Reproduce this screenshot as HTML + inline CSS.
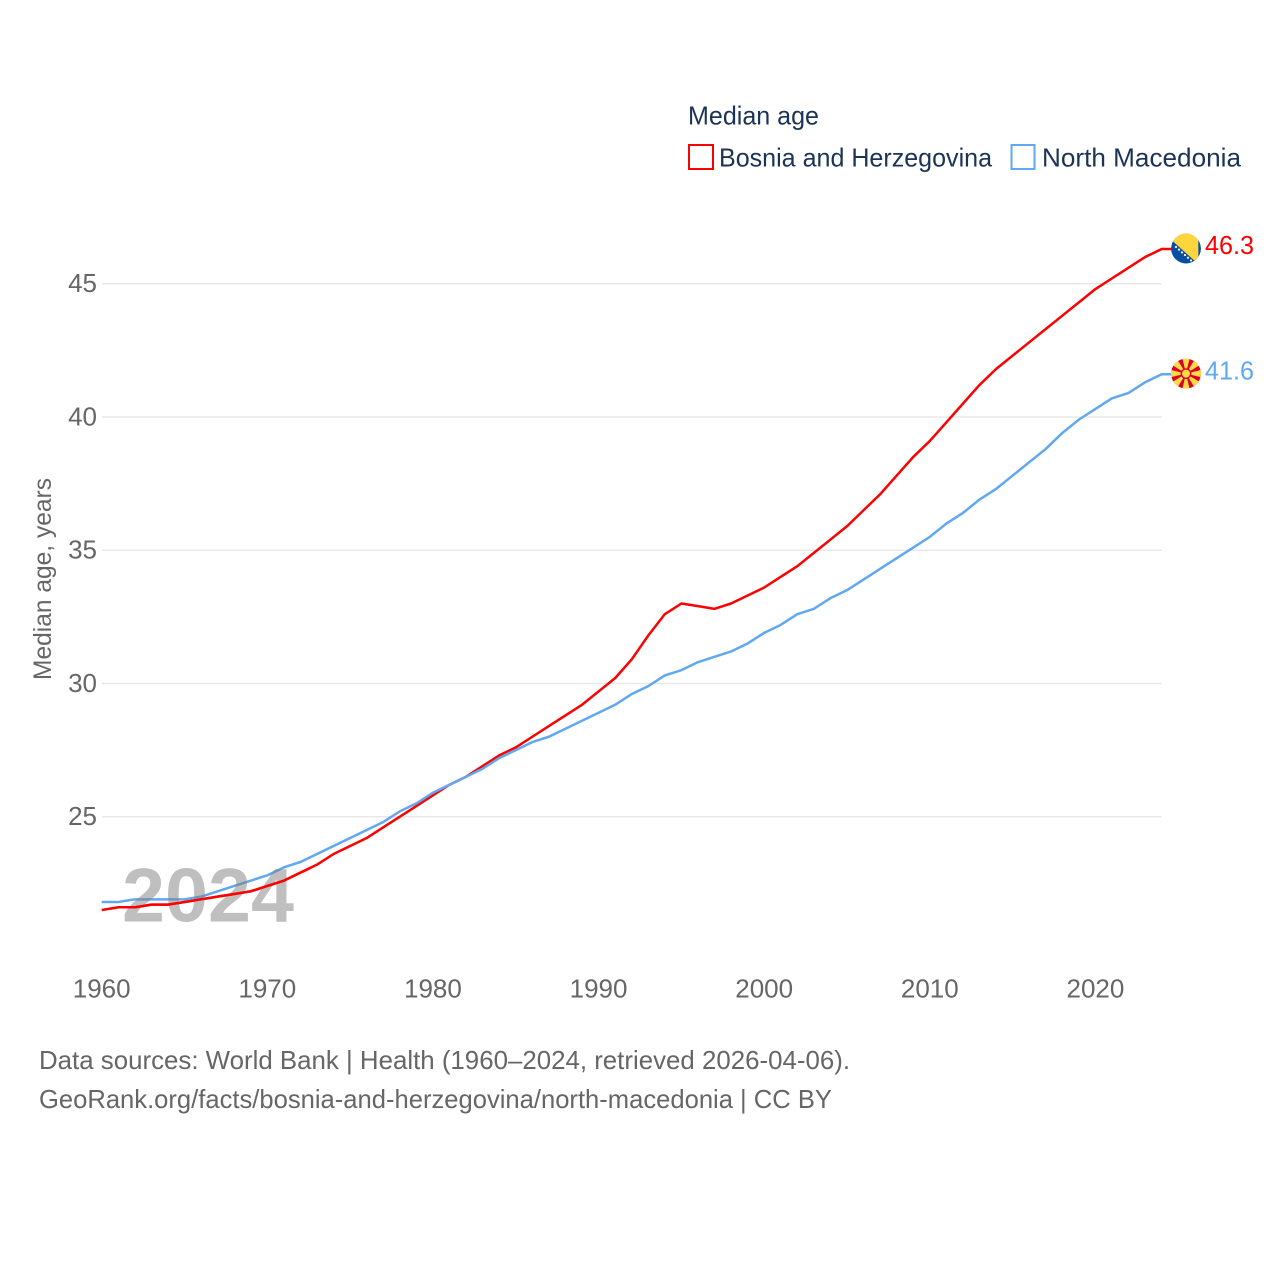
<!DOCTYPE html>
<html lang="en">
<head>
<meta charset="utf-8">
<title>Median age: Bosnia and Herzegovina vs North Macedonia</title>
<style>
html,body{margin:0;padding:0;background:#fff;width:1280px;height:1280px;overflow:hidden}
svg{display:block;font-family:"Liberation Sans",sans-serif}
</style>
</head>
<body>
<svg id="chart" xmlns="http://www.w3.org/2000/svg" width="1280" height="1280" viewBox="0 0 1280 1280">
  <rect x="0" y="0" width="1280" height="1280" fill="#fff"/>
  <defs>
    <clipPath id="watermark-clip"><rect x="110" y="855" width="200" height="75"/></clipPath>
    <clipPath id="flag-clip"><circle cx="0" cy="0" r="15"/></clipPath>
  </defs>

  <g id="grid"></g>
  <g id="yticks"></g>
  <g id="xticks"></g>

  <text transform="translate(51,680) rotate(-90)" font-size="25" fill="#666" textLength="202" lengthAdjust="spacingAndGlyphs">Median age, years</text>

  <g id="series"></g>

  <text x="122" y="921.5" font-size="76" font-weight="700" fill="#808080" fill-opacity="0.5" textLength="172" lengthAdjust="spacingAndGlyphs">2024</text>

  <g id="series-top" clip-path="url(#watermark-clip)"></g>

  <g id="flag-bih">
    <g clip-path="url(#flag-clip)">
      <circle r="15" fill="#0b4ea2"/>
      <polygon points="-14,-8 -14,-16 12.3,-16 12.3,15.5" fill="#ffd53d"/>
      <g fill="#fff">
        <circle cx="-10" cy="-1.6" r="1.1"/>
        <circle cx="-7" cy="1.1" r="1.1"/>
        <circle cx="-4" cy="3.8" r="1.1"/>
        <circle cx="-1" cy="6.5" r="1.1"/>
        <circle cx="2" cy="9.2" r="1.1"/>
        <circle cx="5" cy="11.9" r="1.1"/>
        <circle cx="8" cy="14.6" r="1.1"/>
      </g>
    </g>
  </g>

  <g id="flag-mk">
    <g clip-path="url(#flag-clip)">
      <circle r="15" fill="#d80027"/>
      <g fill="#ffda44">
        <polygon points="0,0 -3.8,-16 3.8,-16"/>
        <polygon points="0,0 -3.8,-16 3.8,-16" transform="rotate(45)"/>
        <polygon points="0,0 -3.8,-16 3.8,-16" transform="rotate(90)"/>
        <polygon points="0,0 -3.8,-16 3.8,-16" transform="rotate(135)"/>
        <polygon points="0,0 -3.8,-16 3.8,-16" transform="rotate(180)"/>
        <polygon points="0,0 -3.8,-16 3.8,-16" transform="rotate(225)"/>
        <polygon points="0,0 -3.8,-16 3.8,-16" transform="rotate(270)"/>
        <polygon points="0,0 -3.8,-16 3.8,-16" transform="rotate(315)"/>
      </g>
      <circle r="5.4" fill="#d80027"/>
      <circle r="4" fill="#ffda44"/>
    </g>
  </g>

  <text id="label-bih" x="1205" font-size="26" fill="#ff0000" textLength="49" lengthAdjust="spacingAndGlyphs"></text>
  <text id="label-mk" x="1205" font-size="26" fill="#60a8f0" textLength="49" lengthAdjust="spacingAndGlyphs"></text>

  <g>
    <text x="688" y="124.5" font-size="26" fill="#1b3355" textLength="131" lengthAdjust="spacingAndGlyphs">Median age</text>
    <rect x="689" y="145" width="24" height="24" fill="#fff" stroke="#ff0000" stroke-width="2"/>
    <text x="719" y="166.5" font-size="26" fill="#1b3355" textLength="273" lengthAdjust="spacingAndGlyphs">Bosnia and Herzegovina</text>
    <rect x="1011.5" y="145" width="23" height="24" fill="#fff" stroke="#60a8f0" stroke-width="2"/>
    <text x="1042" y="166.5" font-size="26" fill="#1b3355" textLength="199" lengthAdjust="spacingAndGlyphs">North Macedonia</text>
  </g>

  <text x="39" y="1069" font-size="26" fill="#666" textLength="811" lengthAdjust="spacingAndGlyphs">Data sources: World Bank | Health (1960–2024, retrieved 2026-04-06).</text>
  <text x="39" y="1108" font-size="26" fill="#666" textLength="793" lengthAdjust="spacingAndGlyphs">GeoRank.org/facts/bosnia-and-herzegovina/north-macedonia | CC BY</text>
</svg>

<script>
const startYear = 1960;
const bosniaValues = [21.5,21.6,21.6,21.7,21.7,21.8,21.9,22.0,22.1,22.2,22.4,22.6,22.9,23.2,23.6,23.9,24.2,24.6,25.0,25.4,25.8,26.2,26.5,26.9,27.3,27.6,28.0,28.4,28.8,29.2,29.7,30.2,30.9,31.8,32.6,33.0,32.9,32.8,33.0,33.3,33.6,34.0,34.4,34.9,35.4,35.9,36.5,37.1,37.8,38.5,39.1,39.8,40.5,41.2,41.8,42.3,42.8,43.3,43.8,44.3,44.8,45.2,45.6,46.0,46.3];
const macedoniaValues = [21.8,21.8,21.9,21.9,21.9,21.9,22.0,22.2,22.4,22.6,22.8,23.1,23.3,23.6,23.9,24.2,24.5,24.8,25.2,25.5,25.9,26.2,26.5,26.8,27.2,27.5,27.8,28.0,28.3,28.6,28.9,29.2,29.6,29.9,30.3,30.5,30.8,31.0,31.2,31.5,31.9,32.2,32.6,32.8,33.2,33.5,33.9,34.3,34.7,35.1,35.5,36.0,36.4,36.9,37.3,37.8,38.3,38.8,39.4,39.9,40.3,40.7,40.9,41.3,41.6];
const yTickValues = [25,30,35,40,45];
const xTickValues = [1960,1970,1980,1990,2000,2010,2020];

const SVGNS = 'http://www.w3.org/2000/svg';
const xScale = function (year) { return 101.7 + (year - 1960) * (1060 / 64); };
const yScale = function (v) { return 816.7 - (v - 25) * 26.65; };

function seriesPath(values) {
  let d = '';
  values.forEach(function (v, i) {
    d += (i ? 'L' : 'M') + xScale(startYear + i).toFixed(2) + ' ' + yScale(v).toFixed(2);
  });
  d += 'L1172 ' + yScale(values[values.length - 1]).toFixed(2);
  return d;
}

const gridGroup = document.getElementById('grid');
const yGroup = document.getElementById('yticks');
yTickValues.forEach(function (t) {
  const line = document.createElementNS(SVGNS, 'line');
  
  
  line.setAttribute('x1', 102);
  line.setAttribute('x2', 1161.5);
  line.setAttribute('y1', yScale(t));
  line.setAttribute('y2', yScale(t));
  line.setAttribute('stroke', '#e8e8e8');
  line.setAttribute('stroke-width', '1.5');
  gridGroup.appendChild(line);

  const label = document.createElementNS(SVGNS, 'text');
  
  
  label.setAttribute('x', 97);
  label.setAttribute('y', yScale(t) + 8.5);
  label.setAttribute('text-anchor', 'end');
  label.setAttribute('font-size', '26');
  label.setAttribute('fill', '#666');
  label.textContent = t;
  yGroup.appendChild(label);
});

const xGroup = document.getElementById('xticks');
xTickValues.forEach(function (t) {
  const label = document.createElementNS(SVGNS, 'text');
  
  
  label.setAttribute('x', xScale(t));
  label.setAttribute('y', 997.5);
  label.setAttribute('text-anchor', 'middle');
  label.setAttribute('font-size', '26');
  label.setAttribute('fill', '#666');
  label.textContent = t;
  xGroup.appendChild(label);
});

const seriesGroup = document.getElementById('series');

const redLine = document.createElementNS(SVGNS, 'path');


redLine.setAttribute('d', seriesPath(bosniaValues));
redLine.setAttribute('fill', 'none');
redLine.setAttribute('stroke', '#ff0000');
redLine.setAttribute('stroke-width', '2.5');
redLine.setAttribute('stroke-linejoin', 'round');
seriesGroup.appendChild(redLine);

const blueLine = document.createElementNS(SVGNS, 'path');


blueLine.setAttribute('d', seriesPath(macedoniaValues));
blueLine.setAttribute('fill', 'none');
blueLine.setAttribute('stroke', '#60a8f0');
blueLine.setAttribute('stroke-width', '2.5');
blueLine.setAttribute('stroke-linejoin', 'round');
seriesGroup.appendChild(blueLine);

const redOverlay = document.createElementNS(SVGNS, 'path');


redOverlay.setAttribute('d', seriesPath(bosniaValues));
redOverlay.setAttribute('fill', 'none');
redOverlay.setAttribute('stroke', '#ff0000');
redOverlay.setAttribute('stroke-width', '2.5');
redOverlay.setAttribute('stroke-linejoin', 'round');
document.getElementById('series-top').appendChild(redOverlay);

const lastBosnia = bosniaValues[bosniaValues.length - 1];
const lastMacedonia = macedoniaValues[macedoniaValues.length - 1];
document.getElementById('flag-bih').setAttribute('transform', 'translate(1186,' + (yScale(lastBosnia) - 0.5) + ')');
document.getElementById('flag-mk').setAttribute('transform', 'translate(1186,' + (yScale(lastMacedonia) - 0.7) + ')');
const labelBih = document.getElementById('label-bih');
labelBih.setAttribute('y', yScale(lastBosnia) + 5);
labelBih.textContent = lastBosnia.toFixed(1);
const labelMk = document.getElementById('label-mk');
labelMk.setAttribute('y', yScale(lastMacedonia) + 5);
labelMk.textContent = lastMacedonia.toFixed(1);
</script>
</body>
</html>
